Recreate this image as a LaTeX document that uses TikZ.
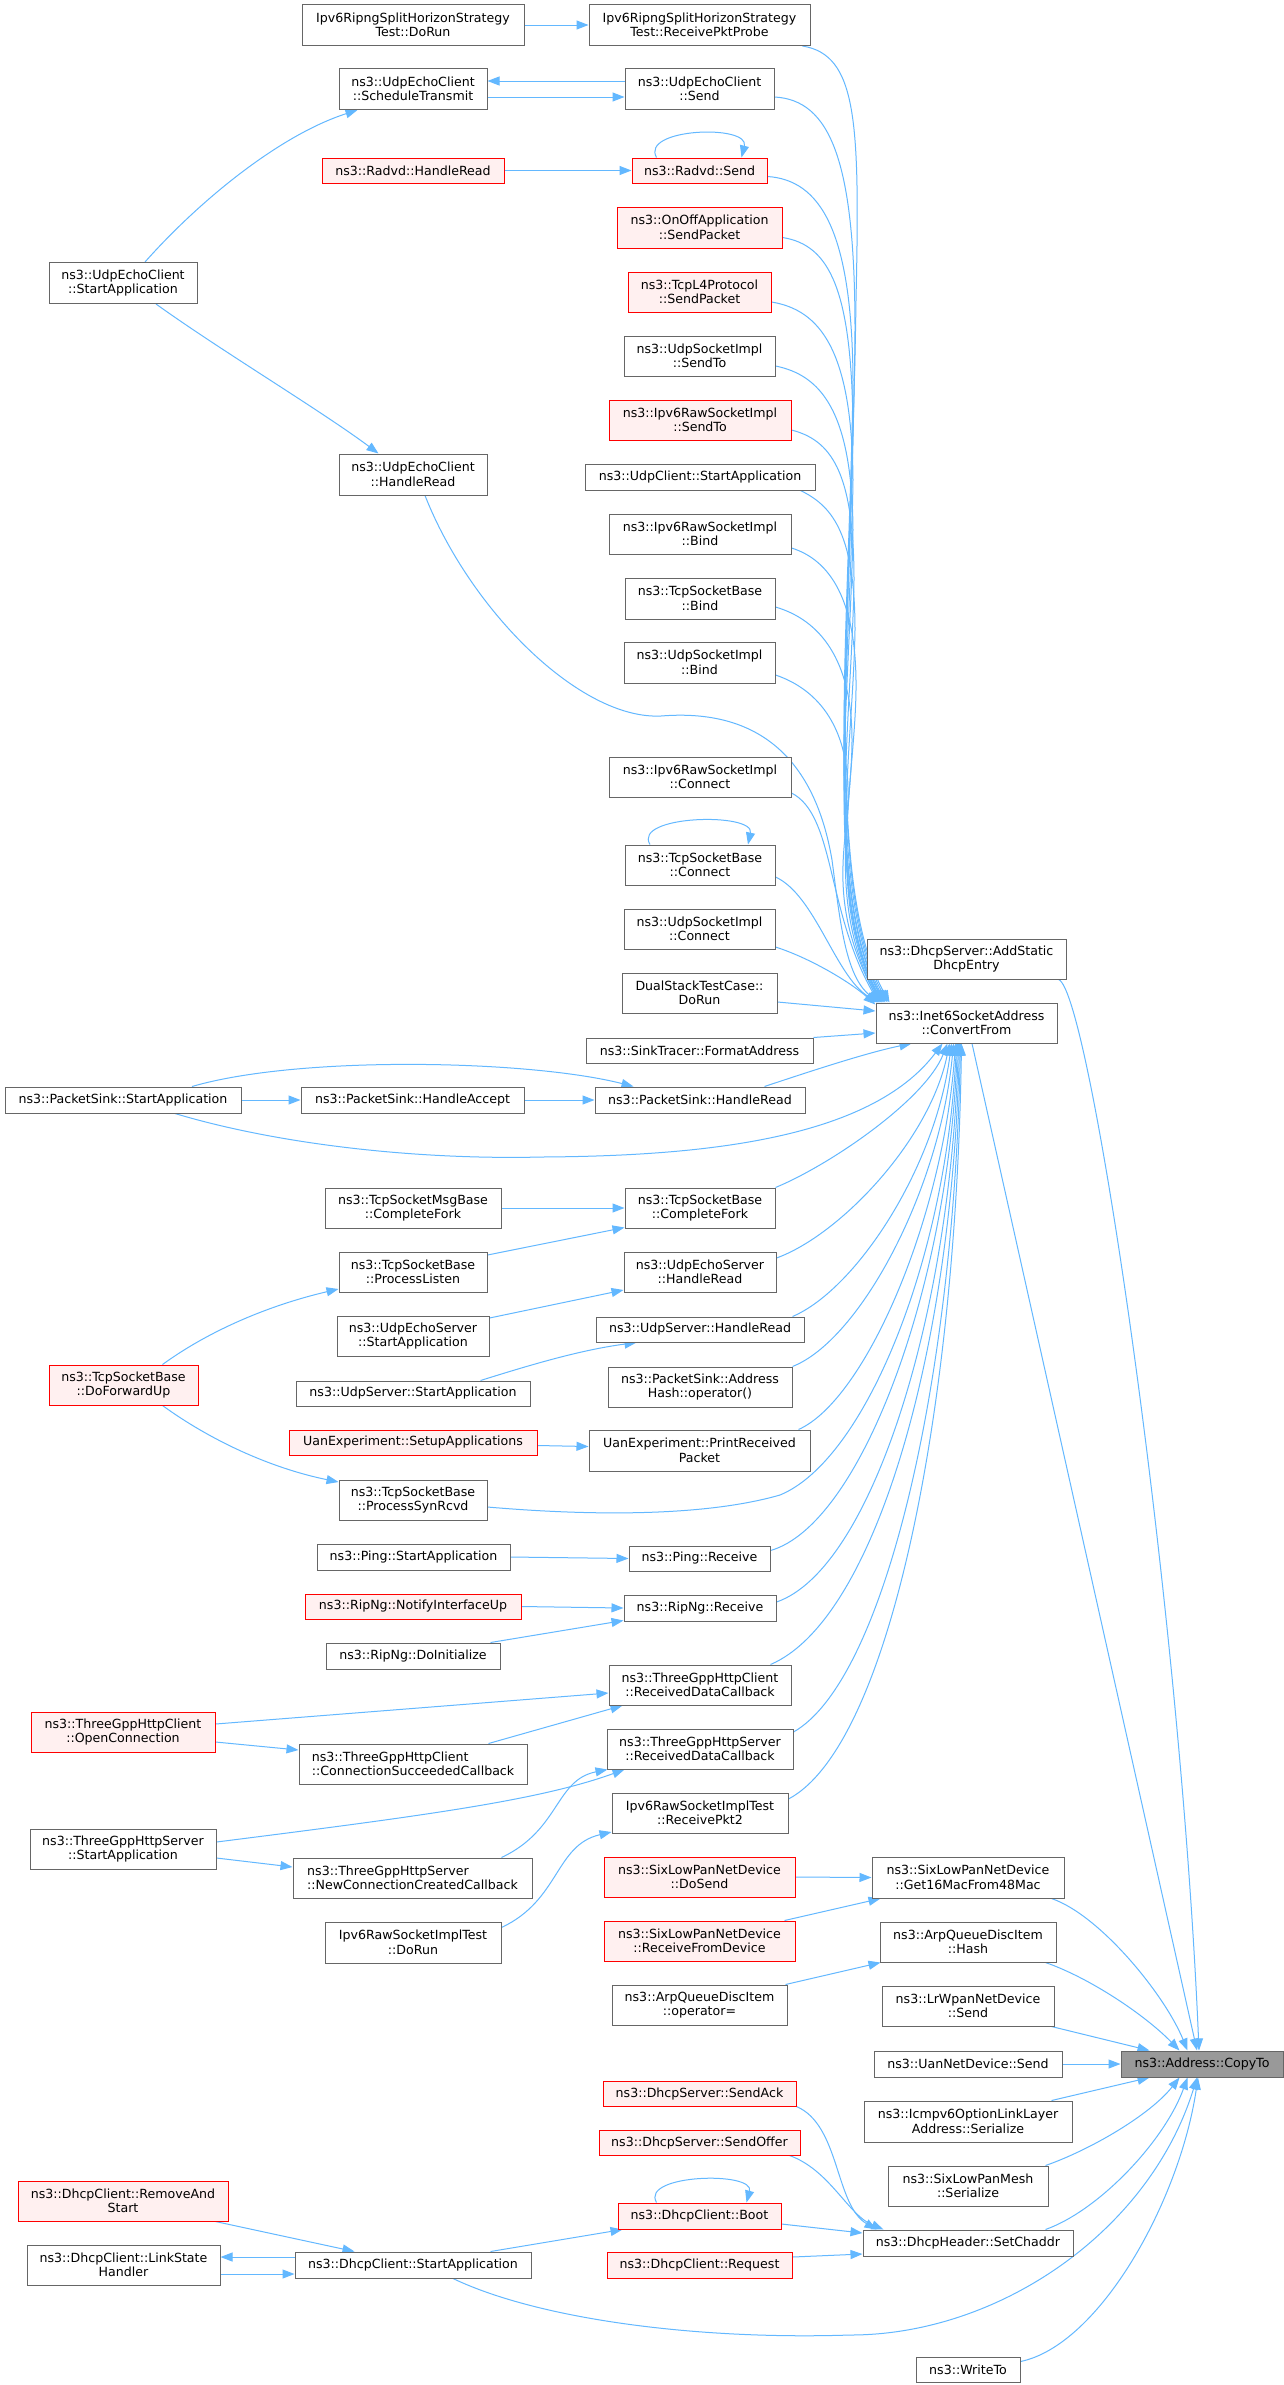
\documentclass[tikz,border=0pt]{standalone}
\usepackage{fontspec}
\setmainfont{DejaVu Sans}
\usetikzlibrary{arrows.meta,calc}
\pgfdeclarelayer{bg}
\pgfsetlayers{bg,main}
\definecolor{boxline}{HTML}{666666}
\definecolor{redline}{HTML}{FF0000}
\definecolor{redfill}{HTML}{FFF0F0}
\definecolor{selfill}{HTML}{999999}
\definecolor{edgeblue}{HTML}{63B8FF}
\tikzset{
  box/.style={draw=boxline, fill=white, line width=1pt, inner sep=0pt, align=center, font=\fontsize{12.6}{14.5}\selectfont},
  redbox/.style={box, draw=redline, fill=redfill},
  selbox/.style={box, fill=selfill},
  sz/.style 2 args={minimum width=#1pt, minimum height=#2pt},
  arr/.style={draw=edgeblue, line width=1pt, -{Triangle[length=12pt,width=9pt]}},
}
\begin{document}
\begin{tikzpicture}[x=1pt,y=-1pt]
\useasboundingbox (0,0) rectangle (1284,2385);
% ---------------- column A
\node[box,sz={148}{41}] (uecStart) at (123,283) {ns3::UdpEchoClient\\::StartApplication};
\node[box,sz={236}{26}] (psStart) at (123,1100) {ns3::PacketSink::StartApplication};
\node[redbox,sz={149}{40}] (dfu) at (123.5,1385) {ns3::TcpSocketBase\\::DoForwardUp};
\node[redbox,sz={184}{40}] (openConn) at (123,1732) {ns3::ThreeGppHttpClient\\::OpenConnection};
\node[box,sz={186}{40}] (httpSrvStart) at (123,1849) {ns3::ThreeGppHttpServer\\::StartApplication};
\node[redbox,sz={210}{40}] (removeStart) at (123,2201) {ns3::DhcpClient::RemoveAnd\\Start};
\node[box,sz={193}{40}] (linkState) at (123.5,2265) {ns3::DhcpClient::LinkState\\Handler};
% ---------------- column B
\node[box,sz={222}{41}] (ripngDoRun) at (413,25) {Ipv6RipngSplitHorizonStrategy\\Test::DoRun};
\node[box,sz={148}{41}] (sched) at (413,89) {ns3::UdpEchoClient\\::ScheduleTransmit};
\node[redbox,sz={182}{25}] (radvdRead) at (413,170.5) {ns3::Radvd::HandleRead};
\node[box,sz={148}{41}] (uecRead) at (413,474.5) {ns3::UdpEchoClient\\::HandleRead};
\node[box,sz={223}{26}] (psAccept) at (412.5,1100) {ns3::PacketSink::HandleAccept};
\node[box,sz={176}{40}] (msgFork) at (413,1208) {ns3::TcpSocketMsgBase\\::CompleteFork};
\node[box,sz={148}{40}] (procListen) at (413,1272) {ns3::TcpSocketBase\\::ProcessListen};
\node[box,sz={152}{40}] (uesStart) at (413,1336) {ns3::UdpEchoServer\\::StartApplication};
\node[box,sz={234}{25}] (usStart) at (413,1393.5) {ns3::UdpServer::StartApplication};
\node[redbox,sz={248}{25}] (uanSetup) at (413,1442.5) {UanExperiment::SetupApplications};
\node[box,sz={148}{40}] (synRcvd) at (413,1500) {ns3::TcpSocketBase\\::ProcessSynRcvd};
\node[box,sz={193}{26}] (pingStart) at (413.5,1557) {ns3::Ping::StartApplication};
\node[redbox,sz={216}{25}] (ripUp) at (413,1606.5) {ns3::RipNg::NotifyInterfaceUp};
\node[box,sz={174}{26}] (ripInit) at (413,1656) {ns3::RipNg::DoInitialize};
\node[box,sz={228}{40},align=left] (connSucc) at (413,1764) {ns3::ThreeGppHttpClient\\::ConnectionSucceededCallback};
\node[box,sz={239}{40},align=left] (newConn) at (412.5,1878) {ns3::ThreeGppHttpServer\\::NewConnectionCreatedCallback};
\node[box,sz={176}{41}] (rawTestRun) at (413,1942.5) {Ipv6RawSocketImplTest\\::DoRun};
\node[box,sz={236}{26}] (dhcpStart) at (413,2265) {ns3::DhcpClient::StartApplication};
% ---------------- column C
\node[box,sz={221}{41}] (probe) at (699.5,25) {Ipv6RipngSplitHorizonStrategy\\Test::ReceivePktProbe};
\node[box,sz={149}{41}] (uecSend) at (699.5,89) {ns3::UdpEchoClient\\::Send};
\node[redbox,sz={135}{25}] (radvdSend) at (699.5,170.5) {ns3::Radvd::Send};
\node[redbox,sz={165}{41}] (onoff) at (699.5,227.5) {ns3::OnOffApplication\\::SendPacket};
\node[redbox,sz={143}{40}] (tcpl4) at (699.5,292) {ns3::TcpL4Protocol\\::SendPacket};
\node[box,sz={151}{40}] (udpSendTo) at (699.5,356) {ns3::UdpSocketImpl\\::SendTo};
\node[redbox,sz={182}{40}] (rawSendTo) at (700,420) {ns3::Ipv6RawSocketImpl\\::SendTo};
\node[box,sz={230}{26}] (udpClientStart) at (700,477) {ns3::UdpClient::StartApplication};
\node[box,sz={182}{40}] (rawBind) at (700,534) {ns3::Ipv6RawSocketImpl\\::Bind};
\node[box,sz={150}{41}] (tcpBind) at (700,598.5) {ns3::TcpSocketBase\\::Bind};
\node[box,sz={151}{41}] (udpBind) at (699.5,662.5) {ns3::UdpSocketImpl\\::Bind};
\node[box,sz={182}{40}] (rawConnect) at (700,777) {ns3::Ipv6RawSocketImpl\\::Connect};
\node[box,sz={150}{40}] (tcpConnect) at (700,865) {ns3::TcpSocketBase\\::Connect};
\node[box,sz={151}{40}] (udpConnect) at (699.5,929) {ns3::UdpSocketImpl\\::Connect};
\node[box,sz={155}{40}] (dualStack) at (699.5,993) {DualStackTestCase::\\DoRun};
\node[box,sz={227}{25}] (formatAddr) at (699.5,1050.5) {ns3::SinkTracer::FormatAddress};
\node[box,sz={210}{26}] (psRead) at (700,1100) {ns3::PacketSink::HandleRead};
\node[box,sz={150}{40}] (tcpFork) at (700,1208) {ns3::TcpSocketBase\\::CompleteFork};
\node[box,sz={152}{40}] (uesRead) at (700,1272) {ns3::UdpEchoServer\\::HandleRead};
\node[box,sz={208}{25}] (usRead) at (700,1329.5) {ns3::UdpServer::HandleRead};
\node[box,sz={184}{40}] (addrHash) at (700,1387) {ns3::PacketSink::Address\\Hash::operator()};
\node[box,sz={221}{41}] (uanPrint) at (699.5,1450.5) {UanExperiment::PrintReceived\\Packet};
\node[box,sz={141}{25}] (pingRecv) at (699.5,1558.5) {ns3::Ping::Receive};
\node[box,sz={152}{26}] (ripRecv) at (700,1608) {ns3::RipNg::Receive};
\node[box,sz={182}{40}] (httpClientRecv) at (700,1685) {ns3::ThreeGppHttpClient\\::ReceivedDataCallback};
\node[box,sz={186}{40}] (httpSrvRecv) at (700,1749) {ns3::ThreeGppHttpServer\\::ReceivedDataCallback};
\node[box,sz={176}{40}] (recvPkt2) at (700,1813) {Ipv6RawSocketImplTest\\::ReceivePkt2};
\node[redbox,sz={191}{40}] (doSend) at (699.5,1877) {ns3::SixLowPanNetDevice\\::DoSend};
\node[redbox,sz={191}{40}] (recvFromDev) at (699.5,1941) {ns3::SixLowPanNetDevice\\::ReceiveFromDevice};
\node[box,sz={175}{40}] (arpOp) at (699.5,2005) {ns3::ArpQueueDiscItem\\::operator=};
\node[redbox,sz={193}{25}] (sendAck) at (699.5,2093.5) {ns3::DhcpServer::SendAck};
\node[redbox,sz={201}{25}] (sendOffer) at (699.5,2142.5) {ns3::DhcpServer::SendOffer};
\node[redbox,sz={163}{26}] (boot) at (699.5,2216) {ns3::DhcpClient::Boot};
\node[redbox,sz={185}{26}] (request) at (699.5,2265) {ns3::DhcpClient::Request};
% ---------------- column D
\node[box,sz={199}{40}] (addStatic) at (966.5,959) {ns3::DhcpServer::AddStatic\\DhcpEntry};
\node[box,sz={181}{40}] (cf) at (966.5,1023) {ns3::Inet6SocketAddress\\::ConvertFrom};
\node[box,sz={192}{41}] (get16) at (968,1877.5) {ns3::SixLowPanNetDevice\\::Get16MacFrom48Mac};
\node[box,sz={176}{40}] (hash) at (968,1942) {ns3::ArpQueueDiscItem\\::Hash};
\node[box,sz={172}{40}] (lrwpan) at (968,2006) {ns3::LrWpanNetDevice\\::Send};
\node[box,sz={188}{26}] (uanSend) at (968,2064) {ns3::UanNetDevice::Send};
\node[box,sz={208}{41}] (icmp) at (968,2121.5) {ns3::Icmpv6OptionLinkLayer\\Address::Serialize};
\node[box,sz={160}{40}] (mesh) at (968,2186) {ns3::SixLowPanMesh\\::Serialize};
\node[box,sz={210}{26}] (chaddr) at (968,2243) {ns3::DhcpHeader::SetChaddr};
\node[box,sz={104}{25}] (writeTo) at (968,2369.5) {ns3::WriteTo};
% ---------------- column E
\node[selbox,sz={162}{26}] (copyTo) at (1202,2064) {ns3::Address::CopyTo};

\begin{pgfonlayer}{bg}
\fill[white] (0,0) rectangle (1284,2385);
% upper left
\draw[arr] (ripngDoRun.east) -- (probe.west);
\draw[arr] ($(sched.east)+(0,8)$) -- ($(uecSend.west)+(0,8)$);
\draw[arr] ($(uecSend.west)+(0,-8)$) -- ($(sched.east)+(0,-8)$);
\draw[arr] ($(uecStart.north)+(22,0)$) .. controls (200,200) and (280,135) .. ($(sched.south west)+(19,0)$);
\draw[arr] ($(uecStart.south)+(33,0)$) .. controls (220,350) and (320,410) .. ($(uecRead.north west)+(40,0)$);
\draw[arr] (radvdRead.east) -- (radvdSend.west);
\draw[arr] ($(radvdSend.north)+(-43,0)$) .. controls (640,128) and (750,124) .. ($(radvdSend.north)+(42,0)$);
\draw[arr] ($(tcpConnect.north)+(-50,0)$) .. controls (632,815) and (755,812) .. ($(tcpConnect.north)+(48,0)$);
% upper bundle to ConvertFrom
\draw[arr] ($(probe.south east)+(-8,0)$) .. controls (857,55) and (860,120) .. (856,300) .. controls (852,600) and (822,880) .. ($(cf.north west)+(14,0)$);
\draw[arr] ($(uecSend.east)+(0,8)$) .. controls (830,100) and (855,160) .. (855,330) .. controls (853,600) and (822,880) .. ($(cf.north west)+(12,0)$);
\draw[arr] ($(radvdSend.east)+(0,6)$) .. controls (820,180) and (852,230) .. (853,380) .. controls (850,620) and (823,880) .. ($(cf.north west)+(10,0)$);
\draw[arr] ($(onoff.east)+(0,10)$) .. controls (830,245) and (852,290) .. (853,430) .. controls (850,650) and (823,885) .. ($(cf.north west)+(9,0)$);
\draw[arr] ($(tcpl4.east)+(0,10)$) .. controls (820,310) and (852,350) .. (853,480) .. controls (850,680) and (824,885) .. ($(cf.north west)+(8,0)$);
\draw[arr] ($(udpSendTo.east)+(0,10)$) .. controls (820,375) and (852,410) .. (853,530) .. controls (850,700) and (824,890) .. ($(cf.north west)+(7,0)$);
\draw[arr] ($(rawSendTo.east)+(0,10)$) .. controls (830,440) and (854,470) .. (854,580) .. controls (852,720) and (825,890) .. ($(cf.north west)+(6,0)$);
\draw[arr] ($(udpClientStart.south east)+(-15,0)$) .. controls (830,505) and (855,530) .. (855,630) .. controls (853,750) and (826,895) .. ($(cf.north west)+(6,0)$);
\draw[arr] ($(rawBind.east)+(0,14)$) .. controls (830,560) and (857,600) .. (856,690) .. controls (855,780) and (826,895) .. ($(cf.north west)+(5,0)$);
\draw[arr] ($(tcpBind.east)+(0,8.5)$) .. controls (820,620) and (852,660) .. (852,740) .. controls (852,810) and (827,900) .. ($(cf.north west)+(4,0)$);
\draw[arr] ($(udpBind.east)+(0,12.5)$) .. controls (820,690) and (850,730) .. (848,800) .. controls (846,850) and (828,905) .. ($(cf.north west)+(4,0)$);
\draw[arr] ($(rawConnect.east)+(0,16)$) .. controls (835,815) and (826,910) .. ($(cf.north west)+(3,0)$);
\draw[arr] ($(tcpConnect.east)+(0,12)$) .. controls (815,895) and (835,975) .. ($(cf.north west)+(2,0)$);
\draw[arr] ($(uecRead.south)+(12,0)$) .. controls (470,610) and (580,720) .. (661,716) .. controls (760,708) and (815,760) .. (832,860) .. controls (840,920) and (845,975) .. ($(cf.north west)+(3,0)$);
\draw[arr] ($(udpConnect.east)+(0,18)$) .. controls (810,958) and (850,982) .. ($(cf.north west)+(0,2)$);
\draw[arr] ($(dualStack.east)+(0,9)$) -- ($(cf.west)+(0,-12)$);
\draw[arr] (formatAddr.north east) -- ($(cf.west)+(0,10)$);
% packet sink
\draw[arr] (psStart.east) -- (psAccept.west);
\draw[arr] (psAccept.east) -- (psRead.west);
\draw[arr] ($(psStart.north)+(69,0)$) .. controls (300,1055) and (530,1060) .. ($(psRead.north west)+(39,0)$);
\draw[arr] ($(psStart.south)+(52,0)$) .. controls (280,1145) and (420,1160) .. (542,1157) .. controls (700,1156) and (870,1140) .. ($(cf.south west)+(67,0)$);
\draw[arr] ($(psRead.north east)+(-41,0)$) .. controls (820,1068) and (870,1052) .. ($(cf.south west)+(36,0)$);
% lower bundle to ConvertFrom
\draw[arr] (tcpFork.north east) .. controls (830,1165) and (925,1100) .. ($(cf.south west)+(72,0)$);
\draw[arr] ($(uesRead.east)+(0,-14)$) .. controls (840,1235) and (930,1140) .. ($(cf.south west)+(74,0)$);
\draw[arr] ($(usRead.north east)+(-12,0)$) .. controls (855,1290) and (935,1170) .. ($(cf.south west)+(76,0)$);
\draw[arr] (addrHash.north east) .. controls (860,1340) and (940,1190) .. ($(cf.south west)+(78,0)$);
\draw[arr] ($(uanPrint.north east)+(-12,0)$) .. controls (865,1400) and (943,1220) .. ($(cf.south west)+(80,0)$);
\draw[arr] ($(synRcvd.east)+(0,7)$) .. controls (580,1515) and (700,1518) .. (780,1495) .. controls (865,1460) and (946,1260) .. ($(cf.south west)+(81,0)$);
\draw[arr] ($(pingRecv.east)+(0,-8)$) .. controls (860,1525) and (948,1290) .. ($(cf.south west)+(82,0)$);
\draw[arr] ($(ripRecv.east)+(0,-6)$) .. controls (870,1570) and (950,1320) .. ($(cf.south west)+(83,0)$);
\draw[arr] ($(httpClientRecv.north east)+(-21,0)$) .. controls (875,1620) and (952,1350) .. ($(cf.south west)+(84,0)$);
\draw[arr] ($(httpSrvRecv.east)+(0,-17)$) .. controls (885,1680) and (954,1380) .. ($(cf.south west)+(85,0)$);
\draw[arr] ($(recvPkt2.east)+(0,-14)$) .. controls (890,1745) and (956,1410) .. ($(cf.south west)+(86,0)$);
% middle
\draw[arr] (msgFork.east) -- (tcpFork.west);
\draw[arr] ($(procListen.east)+(0,-17)$) -- ($(tcpFork.south west)+(0,-1)$);
\draw[arr] ($(dfu.north)+(39,0)$) .. controls (210,1330) and (270,1305) .. ($(procListen.west)+(0,17)$);
\draw[arr] ($(dfu.south)+(39,0)$) .. controls (210,1440) and (270,1468) .. ($(synRcvd.west)+(0,-18)$);
\draw[arr] ($(uesStart.east)+(0,-18)$) -- ($(uesRead.west)+(0,18)$);
\draw[arr] ($(usStart.north east)+(-50,0)$) .. controls (530,1365) and (580,1350) .. ($(usRead.south west)+(41,0)$);
\draw[arr] ($(uanSetup.east)+(0,3)$) -- ($(uanPrint.west)+(0,-4)$);
% ping / ripng
\draw[arr] (pingStart.east) -- (pingRecv.west);
\draw[arr] (ripUp.east) -- (ripRecv.west);
\draw[arr] ($(ripInit.north east)+(-10,0)$) -- ($(ripRecv.south west)+(0,-1)$);
% http
\draw[arr] ($(openConn.east)+(0,-8)$) -- ($(httpClientRecv.west)+(0,8)$);
\draw[arr] ($(openConn.east)+(0,10)$) -- ($(connSucc.west)+(0,-14)$);
\draw[arr] ($(connSucc.north east)+(-39,0)$) -- ($(httpClientRecv.south west)+(14,0)$);
\draw[arr] ($(httpSrvStart.east)+(0,-7)$) .. controls (430,1815) and (540,1800) .. ($(httpSrvRecv.south west)+(18,0)$);
\draw[arr] ($(httpSrvStart.east)+(0,9)$) -- ($(newConn.west)+(0,-11)$);
\draw[arr] ($(newConn.north east)+(-31,0)$) .. controls (560,1830) and (555,1780) .. ($(httpSrvRecv.south west)+(1,0)$);
\draw[arr] ($(rawTestRun.east)+(0,-15)$) .. controls (560,1900) and (555,1845) .. ($(recvPkt2.west)+(0,19)$);
% sixlowpan / arp
\draw[arr] (doSend.east) -- (get16.west);
\draw[arr] ($(recvFromDev.north east)+(-11,0)$) -- ($(get16.south west)+(9,0)$);
\draw[arr] ($(arpOp.north east)+(-2,0)$) -- ($(hash.south west)+(1,0)$);
% dhcp
\draw[arr] ($(removeStart.south east)+(-13,0)$) -- ($(dhcpStart.north west)+(60,0)$);
\draw[arr] ($(dhcpStart.west)+(0,-8)$) -- ($(linkState.east)+(0,-8)$);
\draw[arr] ($(linkState.east)+(0,9)$) -- ($(dhcpStart.west)+(0,9)$);
\draw[arr] ($(dhcpStart.north east)+(-41,0)$) -- ($(boot.south west)+(5,0)$);
\draw[arr] ($(boot.north)+(-43,0)$) .. controls (640,2174) and (755,2171) .. ($(boot.north)+(47,0)$);
\draw[arr] ($(boot.east)+(0,8)$) -- ($(chaddr.west)+(0,-10)$);
\draw[arr] ($(request.east)+(0,-8)$) -- ($(chaddr.west)+(0,11)$);
\draw[arr] (sendAck.south east) .. controls (840,2125) and (835,2205) .. ($(chaddr.north west)+(14,0)$);
\draw[arr] ($(sendOffer.south east)+(-11,0)$) .. controls (830,2170) and (848,2215) .. ($(chaddr.north west)+(21,0)$);
% to CopyTo
\draw[arr] ($(cf.south)+(5.5,0)$) -- ($(copyTo.north)+(-5,0)$);
\draw[arr] ($(addStatic.south east)+(-8,0)$) .. controls (1090,990) and (1180,1600) .. ($(copyTo.north)+(-3,0)$);
\draw[arr] ($(get16.south east)+(-13,0)$) .. controls (1100,1915) and (1165,1995) .. ($(copyTo.north west)+(67,0)$);
\draw[arr] ($(hash.south east)+(-11,0)$) .. controls (1090,1978) and (1145,2015) .. ($(copyTo.north west)+(59,0)$);
\draw[arr] ($(lrwpan.south east)+(-3,0)$) -- ($(copyTo.north west)+(29,0)$);
\draw[arr] (uanSend.east) -- (copyTo.west);
\draw[arr] ($(icmp.north east)+(-21,0)$) -- ($(copyTo.south west)+(29,0)$);
\draw[arr] ($(mesh.north east)+(-3,0)$) .. controls (1090,2150) and (1150,2115) .. ($(copyTo.south west)+(59,0)$);
\draw[arr] ($(chaddr.north east)+(-28,0)$) .. controls (1100,2210) and (1165,2140) .. ($(copyTo.south west)+(67,0)$);
\draw[arr] ($(dhcpStart.south)+(40,0)$) .. controls (540,2320) and (700,2340) .. (850,2335) .. controls (1000,2335) and (1150,2230) .. ($(copyTo.south)+(-5,0)$);
\draw[arr] ($(writeTo.east)+(0,-8)$) .. controls (1100,2345) and (1180,2200) .. ($(copyTo.south)+(-4,0)$);
\end{pgfonlayer}
\end{tikzpicture}
\end{document}
